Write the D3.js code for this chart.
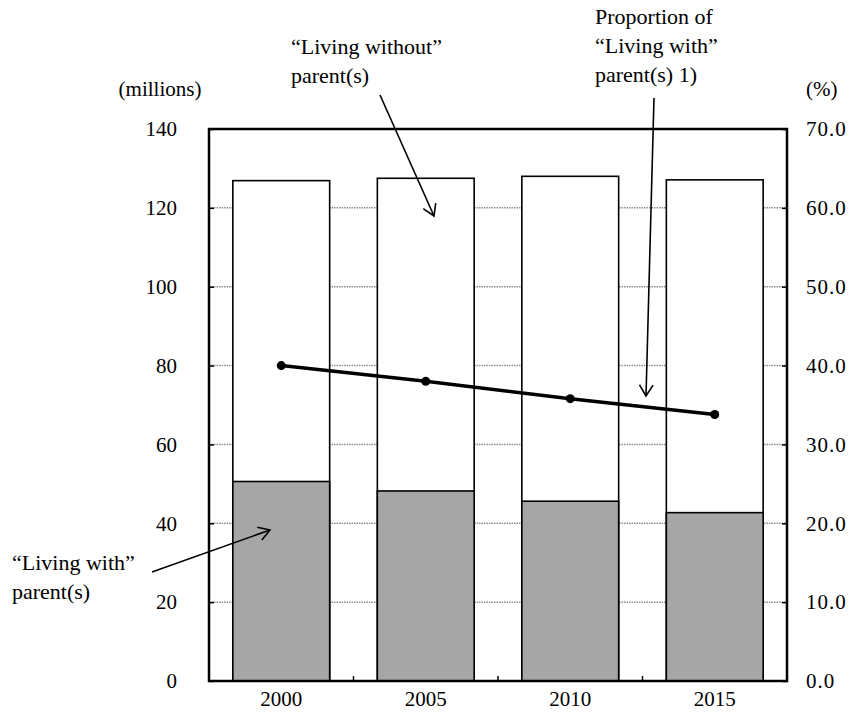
<html>
<head>
<meta charset="utf-8">
<title>Living with parent(s)</title>
<style type="text/css">
    body { margin: 0; background: #fff; }
</style>
</head>
<body>
<script src="https://d3js.org/d3.v7.min.js"></script>
<script>

    // values
    var years = ["2000", "2005", "2010", "2015"];
    var totalPop = [126.9, 127.5, 128.0, 127.1];      // millions, whole bar
    var withParents = [50.6, 48.2, 45.6, 42.7];       // millions, grey part
    var proportion = [40.0, 38.0, 35.8, 33.8];        // %, line
    var leftTicks = [0, 20, 40, 60, 80, 100, 120, 140];
    var rightTicks = [0, 10, 20, 30, 40, 50, 60, 70];

    var width = 855, height = 712;
    var plot = {left: 209, right: 787, top: 129, bottom: 681};
    var serif = "Liberation Serif";
    var fs = "21px";

    var svg = d3.select("body").append("svg")
        .attr("width", width)
        .attr("height", height);

    // every text goes through here so the font is set on the element itself
    function txt(sel) {
        return sel.style("font-family", serif).style("font-size", fs).style("fill", "#000");
    }

    var x = d3.scaleBand()
        .domain(years)
        .range([plot.left, plot.right])
        .padding(0);
    var barW = x.bandwidth() * 0.67;

    var y = d3.scaleLinear().domain([0, 140]).range([plot.bottom, plot.top]);
    var y2 = d3.scaleLinear().domain([0, 70]).range([plot.bottom, plot.top]);

    // dotted grid lines (behind the bars)
    svg.append("g").selectAll("line")
        .data(leftTicks.slice(1, -1))
        .enter().append("line")
        .attr("x1", plot.left).attr("x2", plot.right)
        .attr("y1", function(d) { return y(d); })
        .attr("y2", function(d) { return y(d); })
        .style("stroke", "#8c8c8c")
        .style("stroke-width", 1.5)
        .style("stroke-dasharray", "1.5,1");

    // bars: white total with grey "living with" part at the bottom
    var bars = svg.append("g");
    bars.selectAll(".total")
        .data(years)
        .enter().append("rect")
        .attr("class", "total")
        .attr("x", function(d) { return x(d) + (x.bandwidth() - barW) / 2; })
        .attr("width", barW)
        .attr("y", function(d, i) { return y(totalPop[i]); })
        .attr("height", function(d, i) { return y(0) - y(totalPop[i]); })
        .style("fill", "#fff")
        .style("stroke", "#000")
        .style("stroke-width", 1.6);

    bars.selectAll(".with")
        .data(years)
        .enter().append("rect")
        .attr("class", "with")
        .attr("x", function(d) { return x(d) + (x.bandwidth() - barW) / 2; })
        .attr("width", barW)
        .attr("y", function(d, i) { return y(withParents[i]); })
        .attr("height", function(d, i) { return y(0) - y(withParents[i]); })
        .style("fill", "#a6a6a6")
        .style("stroke", "#000")
        .style("stroke-width", 1.6);

    // left axis: inner ticks, labels outside
    var leftAxis = svg.append("g")
        .attr("transform", "translate(" + plot.left + ",0)")
        .call(d3.axisRight(y).tickValues(leftTicks).tickSize(5).tickFormat(""));
    leftAxis.select(".domain").remove();
    leftAxis.selectAll("line").style("stroke-width", 1.5);

    txt(svg.append("g").selectAll("text")
        .data(leftTicks)
        .enter().append("text")
        .attr("x", 177)
        .attr("y", function(d) { return y(d); })
        .attr("dy", "0.35em")
        .attr("text-anchor", "end"))
        .text(function(d) { return d; });

    // right axis
    var rightAxis = svg.append("g")
        .attr("transform", "translate(" + plot.right + ",0)")
        .call(d3.axisLeft(y2).tickValues(rightTicks).tickSize(5).tickFormat(""));
    rightAxis.select(".domain").remove();
    rightAxis.selectAll("line").style("stroke-width", 1.5);

    txt(svg.append("g").selectAll("text")
        .data(rightTicks)
        .enter().append("text")
        .attr("x", 806)
        .attr("y", function(d) { return y2(d); })
        .attr("dy", "0.35em"))
        .style("letter-spacing", "1px")
        .text(function(d) { return d3.format(".1f")(d); });

    // bottom: small inner ticks at the category boundaries
    svg.append("g").selectAll("line")
        .data(years.slice(1))
        .enter().append("line")
        .attr("x1", function(d) { return x(d); })
        .attr("x2", function(d) { return x(d); })
        .attr("y1", plot.bottom)
        .attr("y2", plot.bottom - 5)
        .style("stroke", "#000")
        .style("stroke-width", 1.5);

    txt(svg.append("g").selectAll("text")
        .data(years)
        .enter().append("text")
        .attr("x", function(d) { return x(d) + x.bandwidth() / 2; })
        .attr("y", 706)
        .attr("text-anchor", "middle"))
        .text(function(d) { return d; });

    // frame
    svg.append("rect")
        .attr("x", plot.left).attr("y", plot.top)
        .attr("width", plot.right - plot.left)
        .attr("height", plot.bottom - plot.top)
        .style("fill", "none")
        .style("stroke", "#000")
        .style("stroke-width", 2.5);

    // proportion line
    var line = d3.line()
        .x(function(d, i) { return x(years[i]) + x.bandwidth() / 2; })
        .y(function(d) { return y2(d); });

    svg.append("path")
        .datum(proportion)
        .attr("d", line)
        .style("fill", "none")
        .style("stroke", "#000")
        .style("stroke-width", 3.5);

    svg.append("g").selectAll("circle")
        .data(proportion)
        .enter().append("circle")
        .attr("cx", function(d, i) { return x(years[i]) + x.bandwidth() / 2; })
        .attr("cy", function(d) { return y2(d); })
        .attr("r", 4.5)
        .style("fill", "#000");

    // unit labels
    txt(svg.append("text").attr("x", 160).attr("y", 96).attr("text-anchor", "middle")).text("(millions)");
    txt(svg.append("text").attr("x", 806).attr("y", 96)).text("(%)");

    // annotations
    function label(lines, lx, ly) {
        var t = txt(svg.append("text").attr("x", lx).attr("y", ly)).style("font-size", "22px");
        lines.forEach(function(s, i) {
            t.append("tspan").attr("x", lx).attr("dy", i ? 29 : 0).text(s);
        });
    }
    label(["\u201cLiving without\u201d", "parent(s)"], 291, 54);
    label(["Proportion of", "\u201cLiving with\u201d", "parent(s) 1)"], 595, 24);
    label(["\u201cLiving with\u201d", "parent(s)"], 12, 570);

    function arrow(x1, y1, x2, y2) {
        var a = Math.atan2(y2 - y1, x2 - x1), len = 13, spread = 0.55;
        var g = svg.append("g").style("stroke", "#000").style("stroke-width", 1.6).style("fill", "none");
        g.append("line").attr("x1", x1).attr("y1", y1).attr("x2", x2).attr("y2", y2);
        g.append("path").attr("d",
            "M" + (x2 - len * Math.cos(a - spread)) + "," + (y2 - len * Math.sin(a - spread)) +
            "L" + x2 + "," + y2 +
            "L" + (x2 - len * Math.cos(a + spread)) + "," + (y2 - len * Math.sin(a + spread)));
    }
    arrow(380, 95, 434, 216);
    arrow(654, 98, 646, 396);
    arrow(152, 572, 270, 530);

</script>
</body>
</html>
